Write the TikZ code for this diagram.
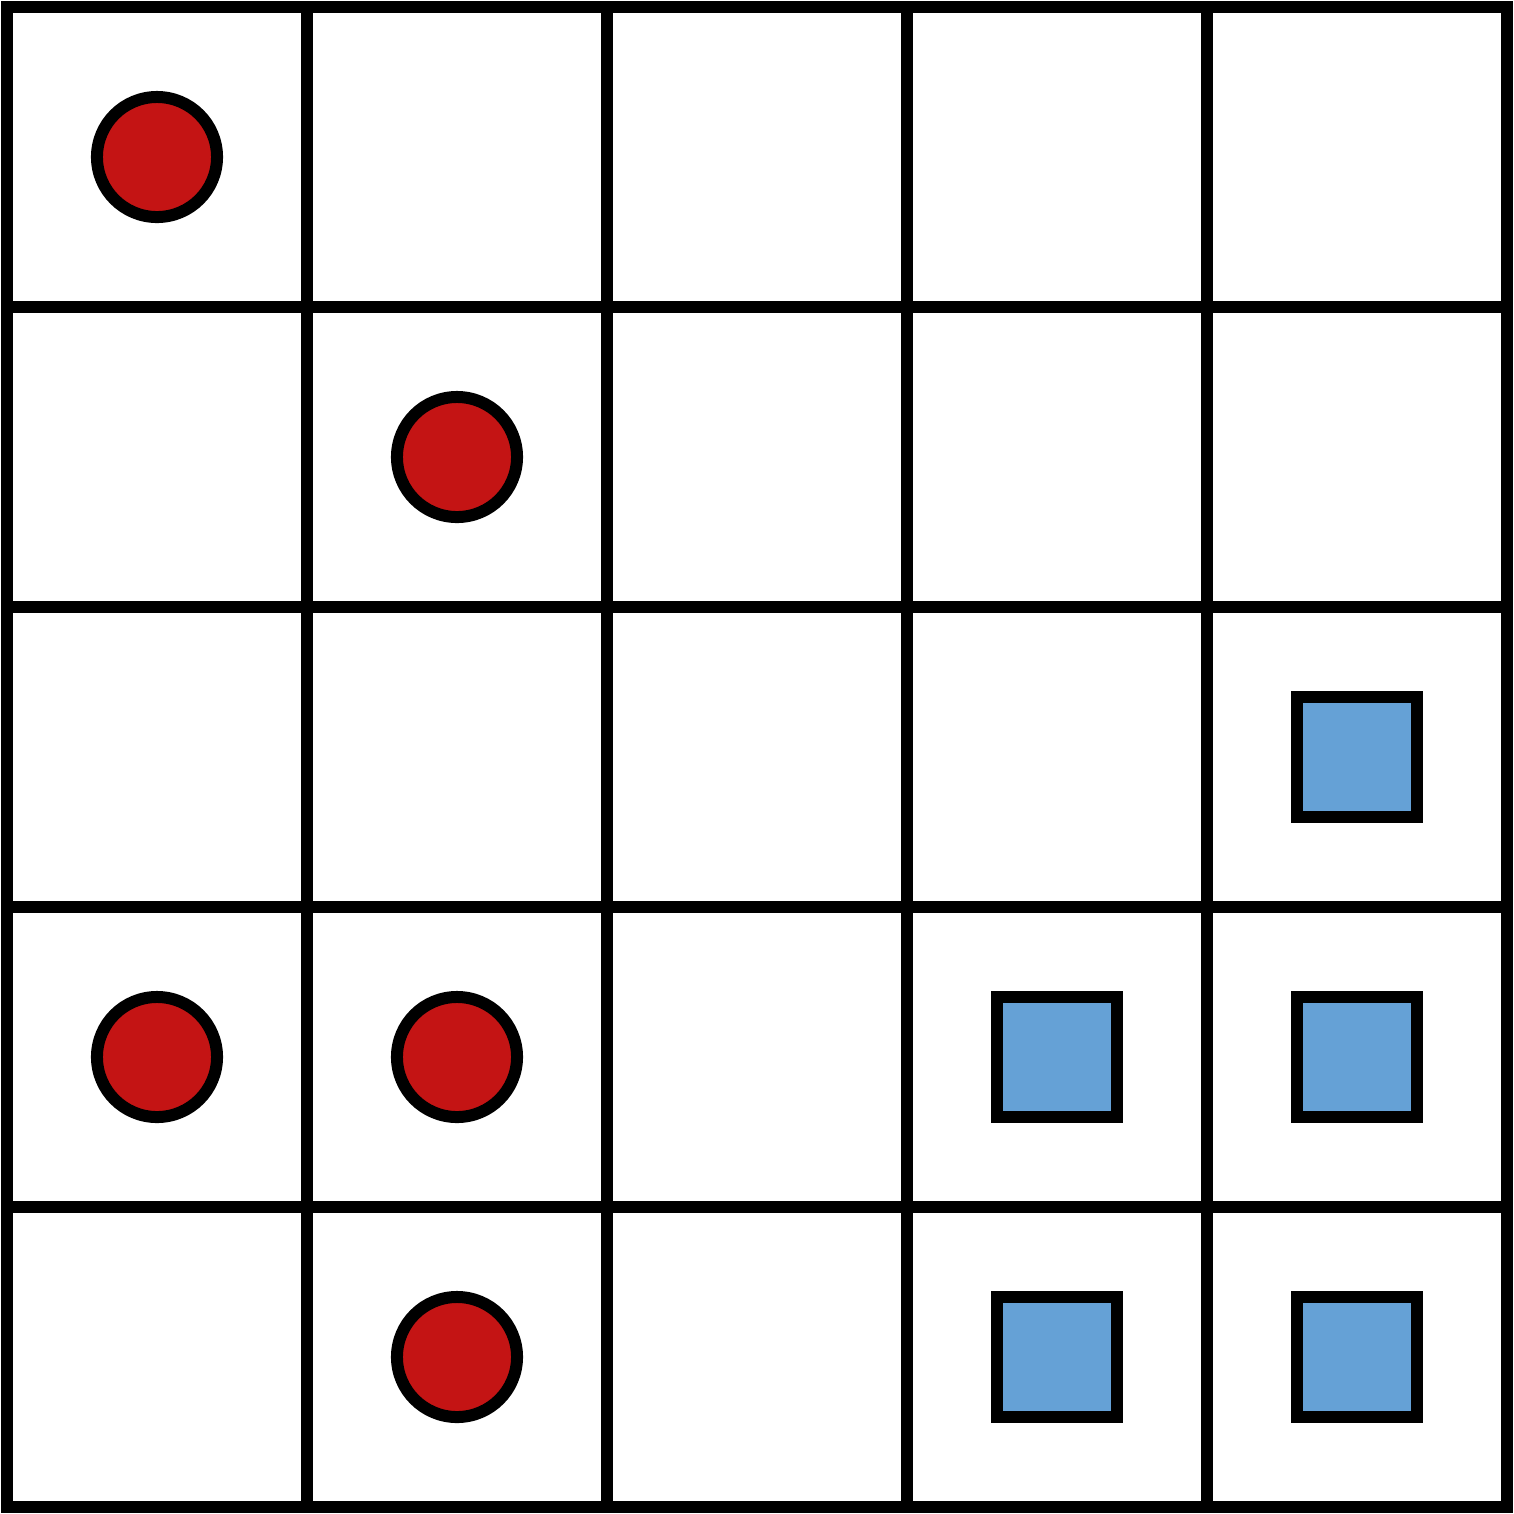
\documentclass[tikz,border=0pt]{standalone}
\definecolor{redfill}{HTML}{C41414}
\definecolor{bluefill}{HTML}{65A1D6}
\begin{document}
\begin{tikzpicture}[x=0.01cm,y=-0.01cm,
  gridline/.style={line width=0.12cm,line cap=rect},
  redpiece/.style={circle,draw=black,fill=redfill,line width=0.12cm,minimum size=1.2cm,inner sep=0pt},
  bluepiece/.style={rectangle,draw=black,fill=bluefill,line width=0.12cm,minimum size=1.2cm,inner sep=0pt}]
\useasboundingbox (0,0) rectangle (1514,1514);
\fill[white] (0,0) rectangle (1514,1514);
\foreach \i in {0,...,5} {
  \draw[gridline] (7+300*\i,7) -- (7+300*\i,1507);
  \draw[gridline] (7,7+300*\i) -- (1507,7+300*\i);
}
\node[redpiece] (r1) at (157,157) {};
\node[redpiece] (r2) at (457,457) {};
\node[redpiece] (r3) at (157,1057) {};
\node[redpiece] (r4) at (457,1057) {};
\node[redpiece] (r5) at (457,1357) {};
\node[bluepiece] (b1) at (1357,757) {};
\node[bluepiece] (b2) at (1057,1057) {};
\node[bluepiece] (b3) at (1357,1057) {};
\node[bluepiece] (b4) at (1057,1357) {};
\node[bluepiece] (b5) at (1357,1357) {};
\end{tikzpicture}
\end{document}
